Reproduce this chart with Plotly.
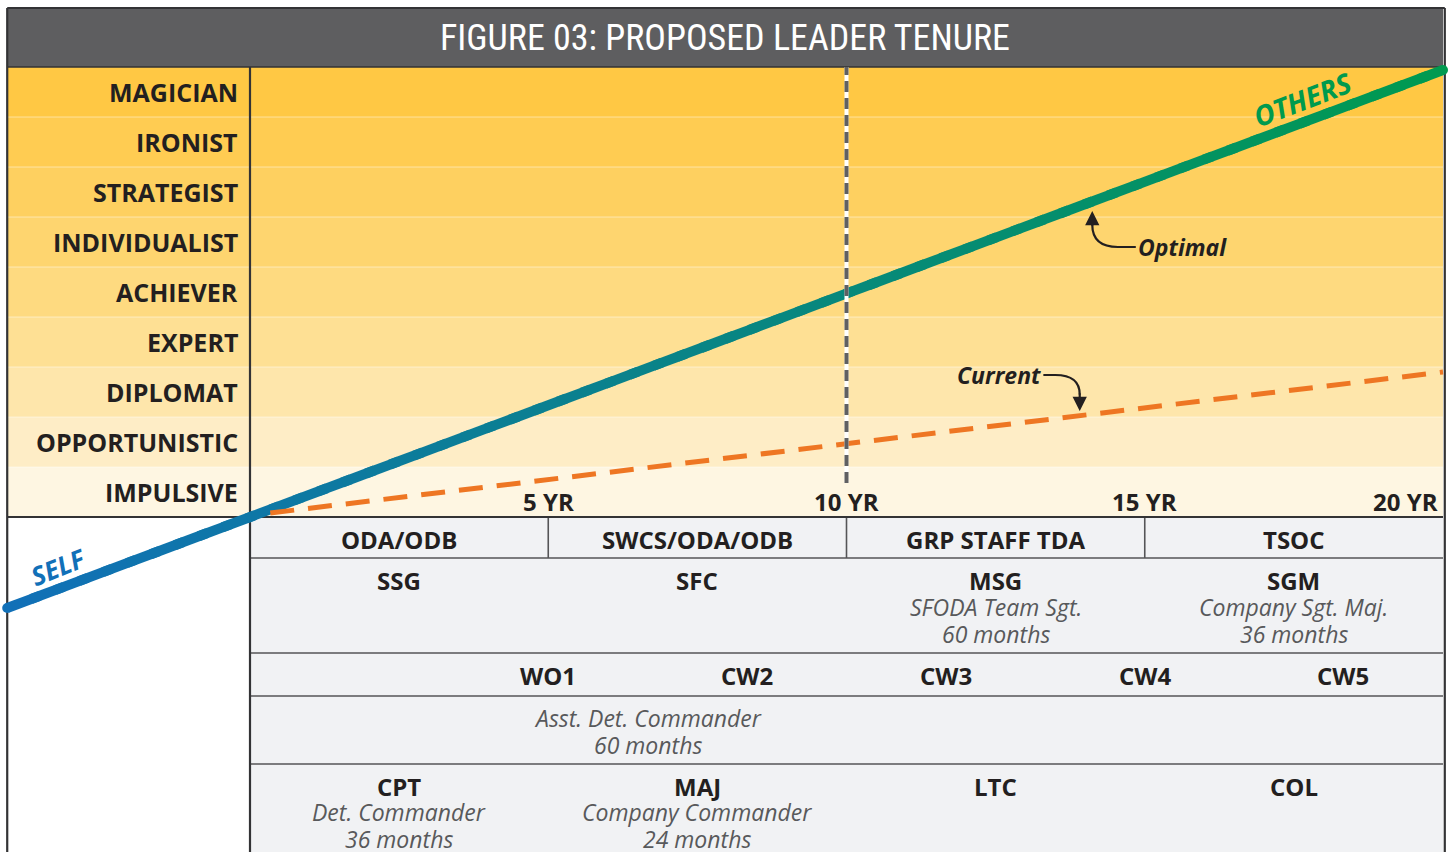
import plotly.graph_objects as go

# ---------------- data ----------------
stages = ["MAGICIAN", "IRONIST", "STRATEGIST", "INDIVIDUALIST", "ACHIEVER",
          "EXPERT", "DIPLOMAT", "OPPORTUNISTIC", "IMPULSIVE"]
band_colors = ["#FFC844", "#FFCC52", "#FED060", "#FED56F", "#FEDA80",
               "#FEE094", "#FEE6AB", "#FEEDC6", "#FEF6E2"]

year_ticks = [5, 10, 15, 20]
year_labels = ["5 YR", "10 YR", "15 YR", "20 YR"]

optimal_x = [-4.07, 20.0]
optimal_y = [-1.82, 8.94]
current_x = [0.34, 20.0]
current_y = [0.08, 2.90]
marker_year = 10
marker_span = [0.68, 9.0]

assignments = ["ODA/ODB", "SWCS/ODA/ODB", "GRP STAFF TDA", "TSOC"]
assign_x = [2.5, 7.5, 12.5, 17.5]

nco_ranks = ["SSG", "SFC", "MSG", "SGM"]
nco_roles = ["", "", "SFODA Team Sgt.", "Company Sgt. Maj."]
nco_tenure = ["", "", "60 months", "36 months"]

wo_ranks = ["WO1", "CW2", "CW3", "CW4", "CW5"]
wo_x = [5.0, 8.33, 11.67, 15.0, 18.33]
wo_role = "Asst. Det. Commander"
wo_tenure = "60 months"
wo_role_x = 6.67

off_ranks = ["CPT", "MAJ", "LTC", "COL"]
off_roles = ["Det. Commander", "Company Commander", "", ""]
off_tenure = ["36 months", "24 months", "", ""]

# ---------------- layout constants (axis units) ----------------
PX = 59.65           # px per year
X_MIN, X_MAX = -250 / PX, 1199 / PX
Y_MIN, Y_MAX = -(852 - 517) / 50, 517 / 50
LEFT = -4.07
TOP = 10.18
TITLE_BOTTOM = 9.0
ROW_LINES = [-0.82, -2.72, -3.58, -4.94]

DARK = "#231F20"
GRAY_TXT = "#58595B"
BOLD = "Open Sans"
TITLE_FONT = "Roboto Condensed, DejaVu Sans Condensed, Liberation Sans Narrow, Roboto, sans-serif"

fig = go.Figure()
shapes = []
ann = []

# title bar
shapes.append(dict(type="rect", xref="x", yref="y", x0=LEFT, x1=20, y0=TITLE_BOTTOM, y1=TOP,
                   fillcolor="#5E5E60", line=dict(width=0), layer="below"))
# bands (label column + plot area)
for i, (name, col) in enumerate(zip(stages, band_colors)):
    y0, y1 = 8 - i, 9 - i
    shapes.append(dict(type="rect", xref="x", yref="y", x0=LEFT, x1=20, y0=y0, y1=y1,
                       fillcolor=col, line=dict(width=0), layer="below"))
    if i > 0:
        shapes.append(dict(type="line", xref="x", yref="y", x0=LEFT, x1=20, y0=y1, y1=y1,
                           line=dict(color="rgba(255,255,255,0.45)", width=1), layer="below"))
    ann.append(dict(x=-0.17, y=y0 + 0.5, xref="x", yref="y", text=name, showarrow=False,
                    xanchor="right", yanchor="middle",
                    font=dict(family=BOLD, size=25, color=DARK, weight=700)))

# table background
shapes.append(dict(type="rect", xref="x", yref="y", x0=0, x1=20, y0=Y_MIN, y1=0,
                   fillcolor="#F1F2F4", line=dict(width=0), layer="below"))
for yl in ROW_LINES:
    shapes.append(dict(type="line", xref="x", yref="y", x0=0, x1=20, y0=yl, y1=yl,
                       line=dict(color="#555557", width=1.6), layer="below"))
for xv in [5, 10, 15]:
    shapes.append(dict(type="line", xref="x", yref="y", x0=xv, x1=xv, y0=0, y1=ROW_LINES[0],
                       line=dict(color="#555557", width=1.6), layer="below"))
# frame lines
shapes.append(dict(type="line", xref="x", yref="y", x0=LEFT, x1=20, y0=0, y1=0,
                   line=dict(color="#333335", width=2.2), layer="below"))
shapes.append(dict(type="line", xref="x", yref="y", x0=0, x1=0, y0=Y_MIN, y1=TITLE_BOTTOM,
                   line=dict(color="#333335", width=2.2), layer="below"))
shapes.append(dict(type="line", xref="x", yref="y", x0=LEFT, x1=20, y0=TITLE_BOTTOM, y1=TITLE_BOTTOM,
                   line=dict(color="#333335", width=1.5), layer="below"))
shapes.append(dict(type="line", xref="x", yref="y", x0=LEFT, x1=LEFT, y0=Y_MIN, y1=TOP,
                   line=dict(color="#333335", width=2.2), layer="below"))
shapes.append(dict(type="line", xref="x", yref="y", x0=20.03, x1=20.03, y0=Y_MIN, y1=TOP,
                   line=dict(color="#333335", width=2.2), layer="below"))
shapes.append(dict(type="line", xref="x", yref="y", x0=LEFT, x1=20.03, y0=TOP, y1=TOP,
                   line=dict(color="#333335", width=2.2), layer="below"))

# title
ann.append(dict(x=(LEFT + 20) / 2, y=(TOP + TITLE_BOTTOM) / 2, xref="x", yref="y",
                text="FIGURE 03: PROPOSED LEADER TENURE", showarrow=False,
                font=dict(family=TITLE_FONT, size=36, color="white")))

# year tick labels
for xv, lab in zip(year_ticks, year_labels):
    ann.append(dict(x=xv - (0.05 if xv == 20 else 0), y=0.32, xref="x", yref="y", text=lab,
                    showarrow=False, xanchor="right" if xv == 20 else "center",
                    font=dict(family=BOLD, size=24, color=DARK, weight=700)))

# ---------------- lines ----------------
# optimal line with blue->green gradient (drawn as short pieces of the same straight line)
c0, c1 = (17, 112, 184), (0, 154, 80)
n = 60
for k in range(n):
    t0, t1 = k / n, min(1.0, (k + 1) / n + 0.006)
    xa = optimal_x[0] + (optimal_x[1] - optimal_x[0]) * t0
    xb = optimal_x[0] + (optimal_x[1] - optimal_x[0]) * t1
    ya = optimal_y[0] + (optimal_y[1] - optimal_y[0]) * t0
    yb = optimal_y[0] + (optimal_y[1] - optimal_y[0]) * t1
    tm = (k + 0.5) / n
    col = "rgb(%d,%d,%d)" % tuple(round(a + (b - a) * tm) for a, b in zip(c0, c1))
    fig.add_trace(go.Scatter(x=[xa, xb], y=[ya, yb], mode="lines",
                             line=dict(color=col, width=10), hoverinfo="skip", showlegend=False))
fig.add_trace(go.Scatter(x=optimal_x, y=optimal_y, mode="markers",
                         marker=dict(size=10, color=["rgb(17,112,184)", "rgb(0,154,80)"], line=dict(width=0)),
                         hoverinfo="skip", showlegend=False))

# current line
fig.add_trace(go.Scatter(x=current_x, y=current_y, mode="lines",
                         line=dict(color="#EE7623", width=5, dash="24px,14px"),
                         hoverinfo="skip", showlegend=False))

# 10 yr marker line
fig.add_trace(go.Scatter(x=[marker_year, marker_year], y=marker_span, mode="lines",
                         line=dict(color="white", width=4), hoverinfo="skip", showlegend=False))
fig.add_trace(go.Scatter(x=[marker_year, marker_year], y=marker_span, mode="lines",
                         line=dict(color="#606062", width=4, dash="11px,6px"),
                         hoverinfo="skip", showlegend=False))

# line labels
ann.append(dict(x=-3.22, y=-1.0, xref="x", yref="y", text="<b><i>SELF</i></b>", showarrow=False,
                textangle=-22, font=dict(family=BOLD, size=26, color="#1170B8")))
ann.append(dict(x=17.65, y=8.36, xref="x", yref="y", text="<b><i>OTHERS</i></b>", showarrow=False,
                textangle=-21, font=dict(family=BOLD, size=28, color="#009A4E")))

# callouts
ann.append(dict(x=14.85, y=5.4, xref="x", yref="y", text="<b><i>Optimal</i></b>", showarrow=False,
                xanchor="left", font=dict(family=BOLD, size=23, color=DARK)))
shapes.append(dict(type="path", xref="x", yref="y",
                   path="M 14.85 5.4 L 14.55 5.4 Q 14.12 5.4 14.12 5.85",
                   line=dict(color=DARK, width=2.2)))
ann.append(dict(x=14.12, y=6.12, ax=14.12, ay=5.8, xref="x", yref="y", axref="x", ayref="y",
                text="", showarrow=True, arrowhead=2, arrowsize=1.3, arrowwidth=2.2, arrowcolor=DARK))

ann.append(dict(x=13.3, y=2.84, xref="x", yref="y", text="<b><i>Current</i></b>", showarrow=False,
                xanchor="right", font=dict(family=BOLD, size=23, color=DARK)))
shapes.append(dict(type="path", xref="x", yref="y",
                   path="M 13.3 2.84 L 13.5 2.84 Q 13.91 2.84 13.91 2.45",
                   line=dict(color=DARK, width=2.2)))
ann.append(dict(x=13.91, y=2.12, ax=13.91, ay=2.5, xref="x", yref="y", axref="x", ayref="y",
                text="", showarrow=True, arrowhead=2, arrowsize=1.3, arrowwidth=2.2, arrowcolor=DARK))

# ---------------- table text ----------------
def bold(x, y, t):
    ann.append(dict(x=x, y=y, xref="x", yref="y", text=t, showarrow=False,
                    font=dict(family=BOLD, size=24, color=DARK, weight=700)))

def ital(x, y, t):
    if t:
        ann.append(dict(x=x, y=y, xref="x", yref="y", text="<i>" + t + "</i>", showarrow=False,
                        font=dict(family=BOLD, size=23, color=GRAY_TXT, weight=400)))

for xv, t in zip(assign_x, assignments):
    bold(xv, -0.44, t)
for xv, r, ro, te in zip(assign_x, nco_ranks, nco_roles, nco_tenure):
    bold(xv, -1.26, r)
    ital(xv, -1.8, ro)
    ital(xv, -2.34, te)
for xv, r in zip(wo_x, wo_ranks):
    bold(xv, -3.16, r)
ital(wo_role_x, -4.02, wo_role)
ital(wo_role_x, -4.56, wo_tenure)
for xv, r, ro, te in zip(assign_x, off_ranks, off_roles, off_tenure):
    bold(xv, -5.38, r)
    ital(xv, -5.9, ro)
    ital(xv, -6.44, te)

fig.update_layout(
    width=1449, height=852, margin=dict(l=0, r=0, t=0, b=0),
    paper_bgcolor="white", plot_bgcolor="white",
    xaxis=dict(range=[X_MIN, X_MAX], visible=False, fixedrange=True),
    yaxis=dict(range=[Y_MIN, Y_MAX], visible=False, fixedrange=True),
    shapes=shapes, annotations=ann, showlegend=False,
)
fig.write_html("out.html", config={"displayModeBar": False},
               post_script="document.body.style.margin='0px';")
